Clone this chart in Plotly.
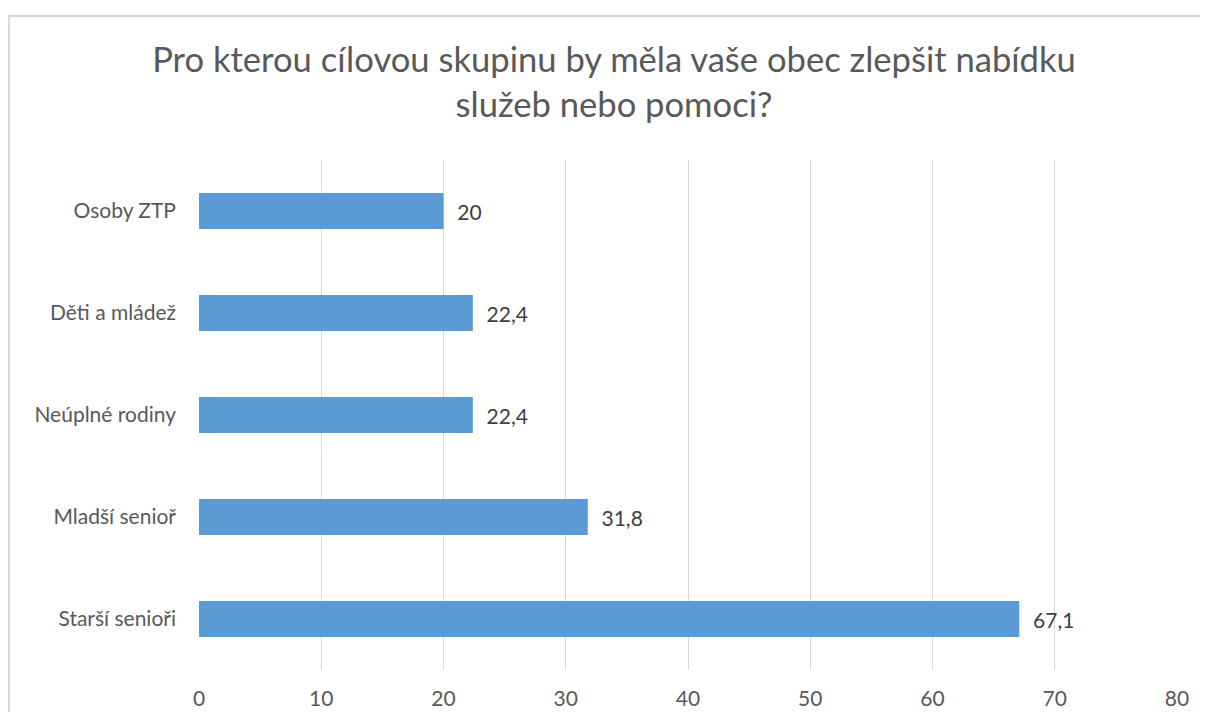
import plotly.graph_objects as go

categories = ["Starší senioři", "Mladší senioř", "Neúplné rodiny", "Děti a mládež", "Osoby ZTP"]
values = [67.1, 31.8, 22.4, 22.4, 20]
x_ticks = [0, 10, 20, 30, 40, 50, 60, 70, 80]

OFF = 8  # page body margin
W, H = 1200, 704
# targets in screenshot pixels
SX0, SX1, SY0, SY1 = 199, 1177, 160, 670
L = SX0 - OFF
R = W - (SX1 - OFF)
T = SY0 - OFF
B = H - (SY1 - OFF)

labels = ["  " + (f"{v:g}").replace(".", ",") for v in values]

fig = go.Figure(go.Bar(
    y=categories, x=values, orientation="h",
    marker=dict(color="#5B9BD5", line=dict(width=0)),
    text=labels, textposition="outside", cliponaxis=False,
    textfont=dict(family="Lato", size=21, color="#404040"),
))

pw = W - L - R
ph = H - T - B

def px_to_paper_x(sx):
    return (sx - OFF - L) / pw

def px_to_paper_y(sy):
    return (H - B - (sy - OFF)) / ph

fig.add_shape(type="rect", xref="paper", yref="paper",
              x0=px_to_paper_x(9), x1=px_to_paper_x(1260),
              y0=px_to_paper_y(760), y1=px_to_paper_y(16),
              line=dict(color="#d9d9d9", width=2), fillcolor="rgba(0,0,0,0)", layer="below")

fig.update_layout(
    width=W, height=H,
    margin=dict(l=L, r=R, t=T, b=B),
    paper_bgcolor="white", plot_bgcolor="white",
    bargap=0.645,
    showlegend=False,
    title=dict(text="Pro kterou cílovou skupinu by měla vaše obec zlepšit nabídku<br>služeb nebo pomoci?",
               x=(614 - OFF) / W, xref="container", xanchor="center",
               y=1 - (72 - OFF) / H, yanchor="middle",
               font=dict(family="Lato", size=34.6, color="#595959")),
    xaxis=dict(range=[0, 80], tickvals=x_ticks, showgrid=True, gridcolor="#d9d9d9", gridwidth=1,
               zeroline=False, showline=False, ticks="", automargin=False,
               tickfont=dict(family="Lato", size=21, color="#595959"), ticklabelstandoff=14),
    yaxis=dict(showgrid=False, zeroline=False, showline=False, ticks="", automargin=False,
               tickfont=dict(family="Lato", size=21, color="#595959"), ticklabelstandoff=22,
               categoryorder="array", categoryarray=categories),
)
fig.update_xaxes(layer="below traces")

fig.write_html("out.html", config={"displayModeBar": False})
